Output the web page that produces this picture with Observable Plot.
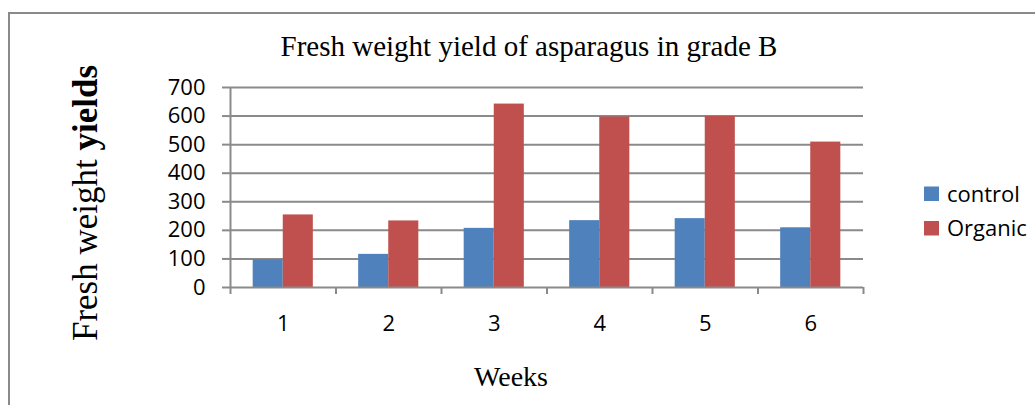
<!DOCTYPE html>
<html><head><meta charset="utf-8">
<script src="https://cdn.jsdelivr.net/npm/d3@7"></script>
<script src="https://cdn.jsdelivr.net/npm/@observablehq/plot@0.6"></script>
<style>
html,body{margin:0;padding:0;background:#fff;overflow:hidden;width:1035px;height:405px}
#chart{position:relative;width:1035px;height:405px}
#chart svg{display:block}
#border{position:absolute;left:8px;top:12px;width:1100px;height:500px;border-top:2px solid #8a8a8a;border-left:2px solid #8a8a8a;pointer-events:none}
</style></head><body><div id="chart"><div id="border"></div></div>
<script>
const weeks = [1, 2, 3, 4, 5, 6];
const seriesNames = ["control", "Organic"];
const control = [97, 116, 207, 234, 241, 209];
const organic = [254, 233, 642, 597, 599, 509];
const yTicks = [0, 100, 200, 300, 400, 500, 600, 700];
const colors = ["#4F81BD", "#C0504D"];
const chartTitle = "Fresh weight yield of asparagus in grade B";
const xTitle = "Weeks";
const yTitleParts = [["Fresh weight ", "normal"], ["yields", "bold"]];

const rows = weeks.flatMap((w, i) => [
  {week: w, series: seriesNames[0], value: control[i]},
  {week: w, series: seriesNames[1], value: organic[i]}
]);
const barFrac = 0.285;
const boundaries = d3.range(weeks.length + 1).map(i => weeks[0] - 0.5 + i);
const gray = "#8a8a8a";
const sans = "'Open Sans', sans-serif";
const serif = "'Liberation Serif', 'Times New Roman', serif";

const chart = Plot.plot({
  width: 1035,
  height: 405,
  marginLeft: 230,
  marginRight: 172,
  marginTop: 87,
  marginBottom: 118,
  style: {fontFamily: sans, fontSize: "22px", background: "transparent", color: "black"},
  x: {type: "linear", domain: [weeks[0] - 0.5, weeks[weeks.length - 1] + 0.5]},
  y: {domain: [0, 700]},
  color: {domain: seriesNames, range: colors},
  marks: [
    Plot.ruleY(yTicks.slice(1), {stroke: gray, strokeWidth: 2}),
    Plot.rect(rows, {
      x1: d => d.series === seriesNames[0] ? d.week - barFrac : d.week,
      x2: d => d.series === seriesNames[0] ? d.week : d.week + barFrac,
      y1: 0,
      y2: "value",
      fill: "series"
    }),
    Plot.ruleY([0], {stroke: gray, strokeWidth: 2}),
    Plot.ruleX([boundaries[0]], {y1: 700, y2: 0, insetBottom: -7, stroke: gray, strokeWidth: 2}),
    Plot.ruleX(boundaries.slice(1), {y1: 0, y2: 0, insetBottom: -7, stroke: gray, strokeWidth: 2}),
    Plot.axisY(yTicks, {tickSize: 8, tickPadding: 17, stroke: gray, strokeWidth: 2, fill: "black", fontSize: 22, fontFamily: sans, label: null}),
    Plot.axisX(weeks, {tickSize: 0, tickPadding: 28, fill: "black", fontSize: 22, fontFamily: sans, label: null, tickFormat: d => String(d)})
  ]
});
document.getElementById("chart").prepend(chart);

const svg = d3.select(chart);
svg.append("text")
  .attr("x", 529).attr("y", 56)
  .attr("text-anchor", "middle")
  .style("font-family", serif).style("font-size", "29px")
  .text(chartTitle);
svg.append("text")
  .attr("x", 511).attr("y", 386)
  .attr("text-anchor", "middle")
  .style("font-family", serif).style("font-size", "28px")
  .text(xTitle);
const yt = svg.append("text")
  .attr("transform", "translate(97,203) rotate(-90)")
  .attr("text-anchor", "middle")
  .style("font-family", serif).style("font-size", "35px");
yTitleParts.forEach(([t, w]) => yt.append("tspan").style("font-weight", w).text(t));

const color = chart.scale("color");
const leg = svg.append("g");
seriesNames.forEach((s, i) => {
  const g = leg.append("g").attr("transform", `translate(924,${186.5 + i * 34.5})`);
  g.append("rect").attr("width", 15).attr("height", 14.5).attr("fill", color.apply(s));
  g.append("text").attr("x", 23).attr("y", 7.5).attr("dy", "0.35em")
    .attr("text-anchor", "start")
    .style("font-family", sans).style("font-size", "22px").text(s);
});
</script></body></html>
